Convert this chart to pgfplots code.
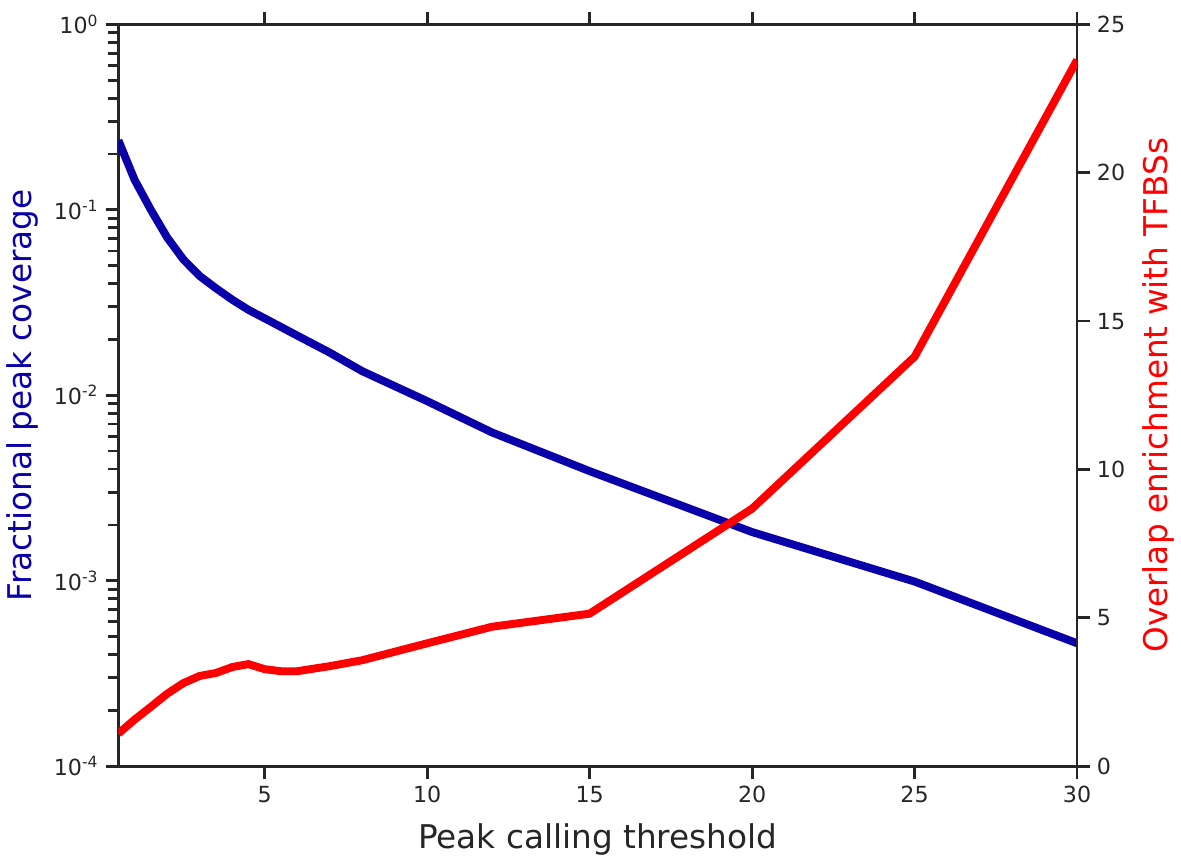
\documentclass[border=0pt]{standalone}
\usepackage{fontspec}
\setmainfont{DejaVu Sans}
\usepackage{pgfplots}
\pgfplotsset{compat=1.18}
\definecolor{txt}{HTML}{262626}
\definecolor{cblue}{RGB}{10,0,170}
\definecolor{cred}{RGB}{255,0,0}
\begin{document}
\begin{tikzpicture}
\pgfplotsset{
  every axis/.append style={
    scale only axis, width=484pt, height=374.5pt,
    xmin=0.5, xmax=30,
    axis line style={txt, line width=1.4pt},
    every tick/.style={txt, line width=1.4pt},
    tick align=outside,
    major tick length=6.5pt, minor tick length=5pt,
    tick label style={font=\fontsize{11.2}{13}\selectfont, text=txt},
    label style={font=\fontsize{16.5}{19}\selectfont},
    /pgf/number format/assume math mode=true,
  },
}
\begin{axis}[
  ymode=log, ymin=1e-4, ymax=1,
  xtick={5,10,15,20,25,30},
  xtick pos=both, xticklabel pos=bottom,
  ytick pos=left,
  ytick={1e-4,1e-3,1e-2,1e-1,1},
  yticklabels={10\textsuperscript{-4},10\textsuperscript{-3},10\textsuperscript{-2},10\textsuperscript{-1},10\textsuperscript{0}},
  xlabel={Peak calling threshold},
  xlabel style={text=txt, yshift=-3.5pt},
  ylabel={Fractional peak coverage},
  ylabel style={text=cblue, yshift=1pt},
]
\addplot[cblue, line width=4pt] coordinates {
(0.5,0.237) (1,0.145) (1.5,0.100) (2,0.071) (2.5,0.054) (3,0.044) (3.5,0.0378)
(4,0.0328) (4.5,0.0289) (5,0.0260) (6,0.0210) (7,0.0170) (8,0.0135)
(10,0.0093) (12,0.0063) (15,0.0039) (20,0.00183) (25,0.00099) (30,0.00046)
};
\end{axis}
\begin{axis}[
  ymin=0, ymax=25,
  axis x line=none,
  axis y line*=right,
  ytick={0,5,10,15,20,25},
  ylabel={Overlap enrichment with TFBSs},
  ylabel style={text=cred, yshift=-2pt},
]
\addplot[cred, line width=4pt] coordinates {
(0.5,1.10) (1,1.57) (1.5,2.00) (2,2.44) (2.5,2.80) (3,3.04) (3.5,3.14)
(4,3.34) (4.5,3.44) (5,3.27) (5.5,3.20) (6,3.20) (7,3.37) (8,3.57)
(10,4.14) (12,4.70) (15,5.14) (20,8.68) (25,13.8) (30,23.8)
};
\end{axis}
% a little white room above the plot, as in the reference
\path ([yshift=4pt]current bounding box.north);
\end{tikzpicture}
\end{document}
